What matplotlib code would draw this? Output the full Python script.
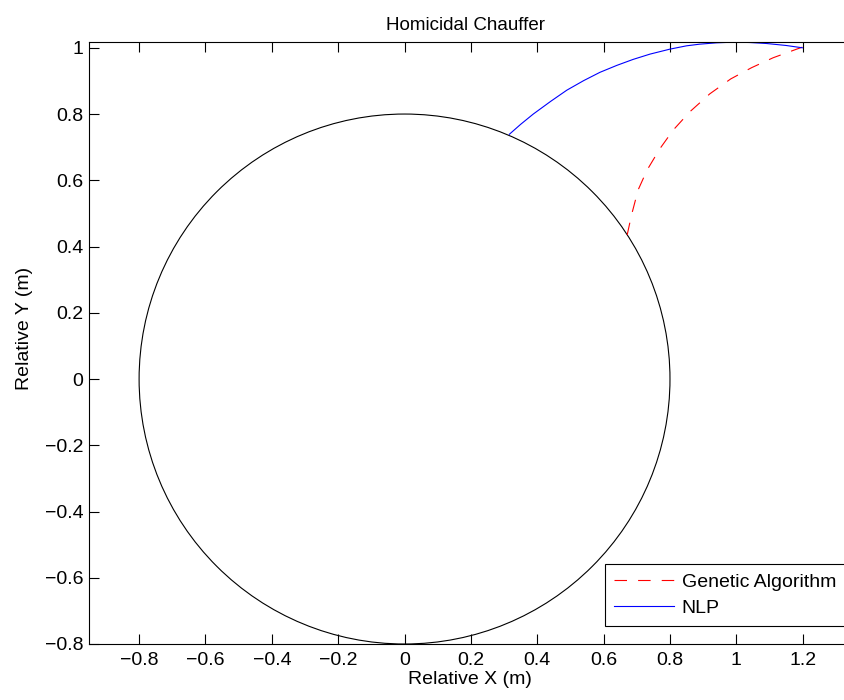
import matplotlib
matplotlib.use("Agg")
import matplotlib.pyplot as plt
from matplotlib.patches import Circle
from matplotlib.ticker import MultipleLocator, FuncFormatter

plt.rcParams["font.family"] = ["Liberation Sans", "DejaVu Sans"]
plt.rcParams["lines.scale_dashes"] = False

# capture circle (radius)
capture_radius = 0.8

# NLP trajectory
nlp_x = [0.316, 0.350, 0.388, 0.440, 0.489, 0.540, 0.589, 0.640, 0.689, 0.740,
         0.800, 0.850, 0.890, 0.940, 0.991, 1.040, 1.091, 1.150, 1.199]
nlp_y = [0.739, 0.769, 0.800, 0.838, 0.872, 0.901, 0.926, 0.947, 0.965, 0.981,
         0.996, 1.006, 1.011, 1.015, 1.017, 1.016, 1.013, 1.007, 1.000]

# genetic algorithm trajectory
ga_x = [0.671, 0.684, 0.704, 0.731, 0.770, 0.810, 0.860, 0.920, 0.983, 1.046,
        1.111, 1.182, 1.199]
ga_y = [0.435, 0.495, 0.571, 0.631, 0.696, 0.752, 0.807, 0.861, 0.906, 0.940,
        0.970, 0.996, 1.002]

fs = 14
lw = 0.8

# axes runs off the right edge of the canvas, like the reference crop
left_px, right_px, bottom_px, top_px = 89, 862, 644, 42.3
fig = plt.figure(figsize=(8.44, 7.0), dpi=100)
ax = fig.add_axes([left_px / 844, (700 - bottom_px) / 700,
                   (right_px - left_px) / 844, (bottom_px - top_px) / 700])

ax.add_patch(Circle((0, 0), capture_radius, fill=False, edgecolor="black", linewidth=lw))
A, = ax.plot(ga_x, ga_y, color="red", linewidth=lw, dashes=(9, 8), label="Genetic Algorithm")
B, = ax.plot(nlp_x, nlp_y, color="blue", linewidth=lw, label="NLP")

ax.set_xlim(-0.951, -0.951 + (right_px - left_px) / 331.8)
ax.set_ylim(-0.8, 1.0166)

ax.xaxis.set_major_locator(MultipleLocator(0.2))
ax.yaxis.set_major_locator(MultipleLocator(0.2))
fmt = FuncFormatter(lambda v, p: ("%g" % round(v, 6)).replace("-", "\u2212"))
ax.xaxis.set_major_formatter(fmt)
ax.yaxis.set_major_formatter(fmt)

ax.tick_params(which="both", direction="in", top=True, right=False,
               length=7, width=lw, labelsize=fs)
ax.tick_params("x", pad=6)
ax.tick_params("y", pad=4)
for s in ax.spines.values():
    s.set_linewidth(lw)
ax.spines["right"].set_visible(False)

ax.set_title("Homicidal Chauffer", fontsize=13.5, pad=9,
             x=(465 - left_px) / (right_px - left_px))
ax.set_xlabel("Relative X (m)", fontsize=fs, labelpad=1)
ax.xaxis.set_label_coords((470 - left_px) / (right_px - left_px), -0.045)
ax.xaxis.label.set_va("top")
ax.set_ylabel("Relative Y (m)", fontsize=fs)
ax.yaxis.set_label_coords((33 - left_px) / (right_px - left_px), 0.525)

leg = ax.legend(handles=[A, B], loc="lower left",
                bbox_to_anchor=(605 / 844, 74.3 / 700), bbox_transform=fig.transFigure,
                borderaxespad=0, fontsize=fs, handlelength=3.1, handletextpad=0.4,
                borderpad=0.45, labelspacing=0.45, fancybox=False, framealpha=1)
leg.get_frame().set_edgecolor("black")
leg.get_frame().set_linewidth(lw)

plt.savefig("out.png", dpi=100)
